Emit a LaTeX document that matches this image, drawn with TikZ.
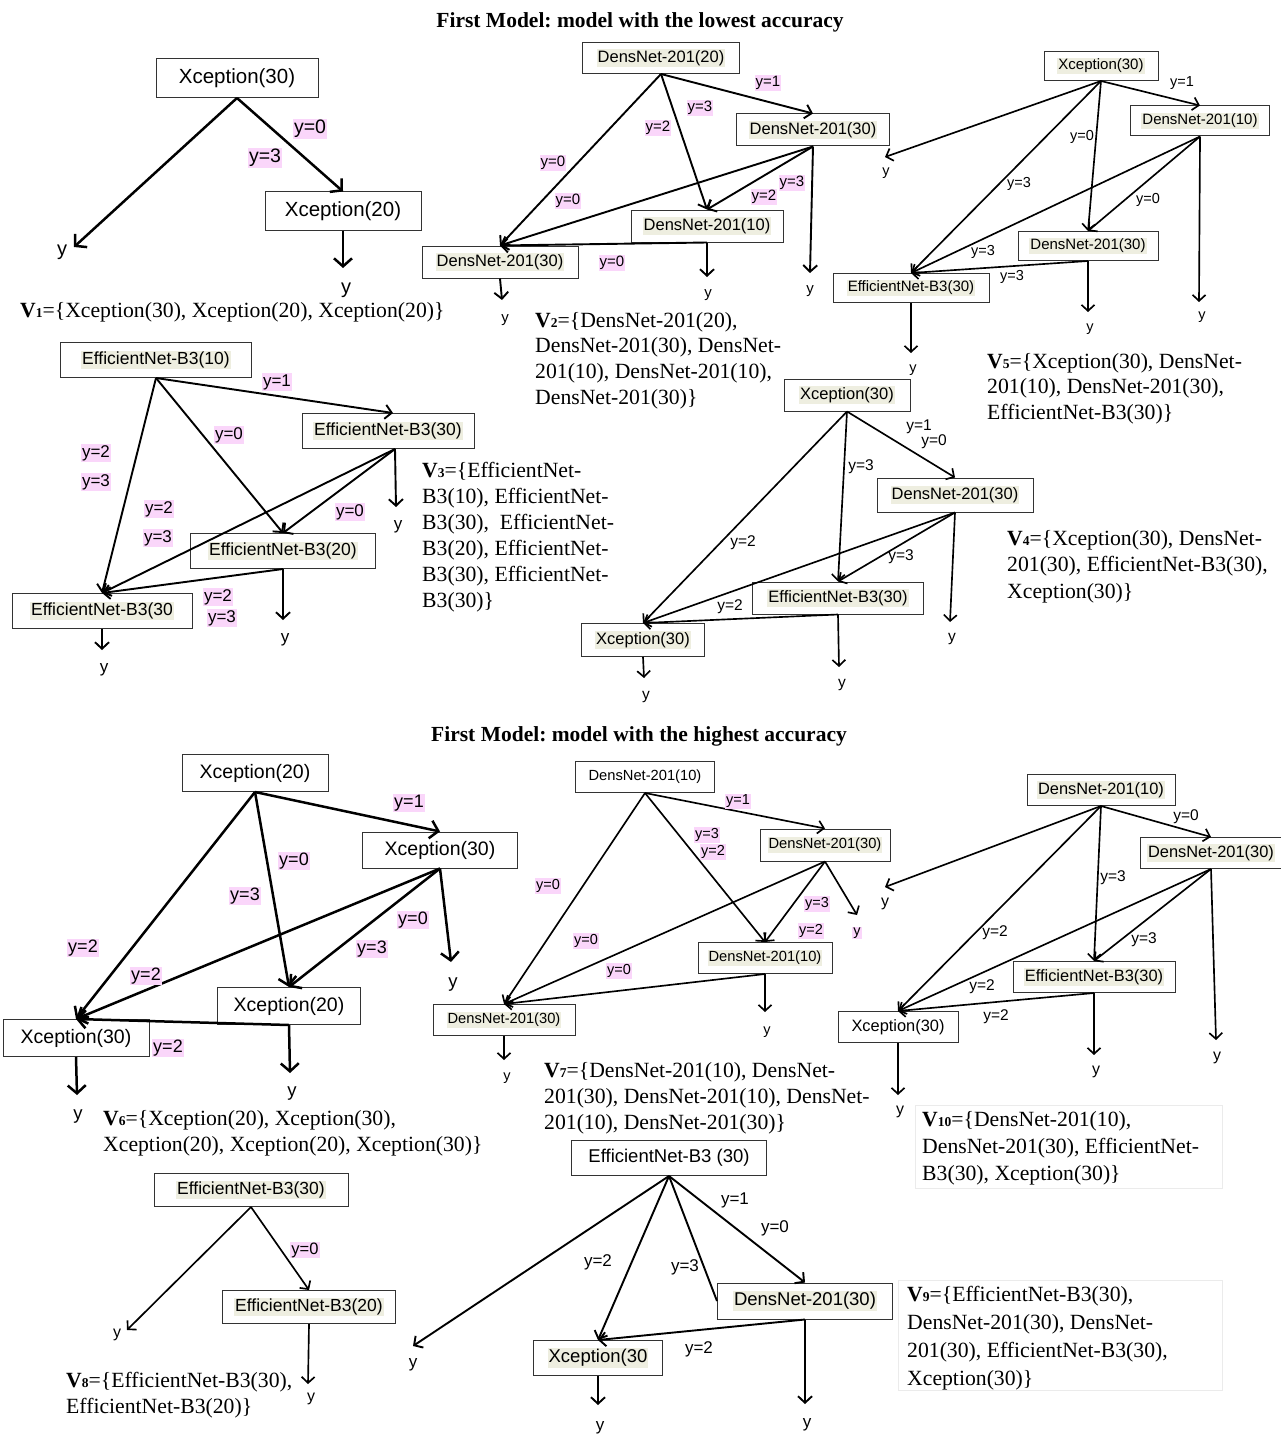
\documentclass[tikz,border=0pt]{standalone}
\usepackage{fontspec}
\setmainfont{Liberation Serif}
\newfontfamily\arialf{Liberation Sans}
\usetikzlibrary{arrows.meta}
\definecolor{pk}{RGB}{250,214,250}
\definecolor{bg}{RGB}{238,238,224}
\newcommand\A[1]{\arialf\fontsize{#1}{#1}\selectfont}
\newcommand\hb[1]{{\setlength{\fboxsep}{1pt}\colorbox{bg}{#1}}}
\newcommand\Vs[1]{\textbf{V}{\fontsize{13.5}{13.5}\selectfont\bfseries #1}}
\newcommand\ST[1]{\fontsize{21.7}{#1}\selectfont}
\frenchspacing
\begin{document}
\begin{tikzpicture}[x=1pt,y=-1pt,
 bx/.style={draw=black!80, line width=1pt, fill=white, inner sep=0pt},
 wh/.style 2 args={minimum width=#1pt, minimum height=#2pt},
 aT/.style={line width=2.5pt, -{Straight Barb[length=8pt,width=18pt]}},
 aM/.style={line width=1.9pt, -{Straight Barb[length=6.5pt,width=14pt]}},
 aS/.style={line width=1.65pt, -{Straight Barb[length=6pt,width=13pt]}},
 lnS/.style={line width=1.9pt},
 lp/.style={fill=pk, inner sep=1pt},
 lb/.style={inner sep=1pt},
 st/.style={anchor=north west, align=left, inner sep=0pt},
]
\fill[white] (0,0) rectangle (1281,1434);
\useasboundingbox (0,0) rectangle (1281,1434);

% titles
\node[font=\fontsize{21.5}{24}\selectfont\bfseries] (t1) at (640,22) {First Model: model with the lowest accuracy};
\node[font=\fontsize{21.5}{24}\selectfont\bfseries] (t2) at (639,736) {First Model: model with the highest accuracy};

% ================= V1
\node[bx, wh={162}{39}, font=\A{20.5}] (a1) at (237,78) {Xception(30)};
\node[bx, wh={156}{38}, font=\A{20.5}] (a2) at (343,211) {Xception(20)};
\coordinate (a1y) at (74,247);
\coordinate (a2y) at (343,268);
\draw[aT] (a1.south) -- (a1y);
\draw[aT] (a1.south) -- (a2.north);
\draw[aT] (a2.south) -- (a2y);
\node[font=\A{20}] (a1yl) at (62,252) {y};
\node[font=\A{20}] (a2yl) at (346,290) {y};
\node[lp, font=\A{19.5}] (a1l0) at (310,129) {y=0};
\node[lp, font=\A{19.5}] (a1l3) at (265,158) {y=3};
\node[st, font=\ST{26}] (v1) at (20,302) {\Vs{1}=\{Xception(30), Xception(20), Xception(20)\}};

% ================= V2
\node[bx, wh={157}{31}, font=\A{16.5}] (b1) at (661,58) {\hb{DensNet-201(20)}};
\node[bx, wh={153}{32}, font=\A{16.5}] (b2) at (813,130) {\hb{DensNet-201(30)}};
\node[bx, wh={152}{32}, font=\A{16.5}] (b3) at (707,226) {\hb{DensNet-201(10)}};
\node[bx, wh={156}{32}, font=\A{16.5}] (b4) at (500,262) {\hb{DensNet-201(30)}};
\coordinate (b2y) at (810,273);
\coordinate (b3y) at (707,277);
\coordinate (b4y) at (502,300);
\draw[aM] (b1.south) -- (b2.north);
\draw[aM] (b1.south) -- (b3.north);
\draw[aM] (b1.south) -- (b4.north);
\draw[aM] (b2.south) -- (b4.north);
\draw[aM] (b2.south) -- (b3.north);
\draw[aM] (b2.south) -- (b2y);
\draw[aM] (b3.south) -- (b4.north);
\draw[aM] (b3.south) -- (b3y);
\draw[aM] (b4.south) -- (b4y);
\node[font=\A{15}] (b2yl) at (810,291) {y};
\node[font=\A{15}] (b3yl) at (708,295) {y};
\node[font=\A{15}] (b4yl) at (505,320) {y};
\node[lp, font=\A{15}] (b1l1) at (768,83) {y=1};
\node[lp, font=\A{15}] (b1l3) at (700,108) {y=3};
\node[lp, font=\A{15}] (b1l2) at (658,128) {y=2};
\node[lp, font=\A{15}] (b1l0) at (553,163) {y=0};
\node[lp, font=\A{15}] (b2l0) at (568,201) {y=0};
\node[lp, font=\A{15}] (b2l3) at (792,183) {y=3};
\node[lp, font=\A{15}] (b2l2) at (764,197) {y=2};
\node[lp, font=\A{15}] (b3l0) at (612,263) {y=0};
\node[st, font=\ST{25.7}] (v2) at (535,312) {\Vs{2}=\{DensNet-201(20),\\DensNet-201(30), DensNet-\\201(10), DensNet-201(10),\\DensNet-201(30)\}};

% ================= V5
\node[bx, wh={114}{29}, font=\A{15}] (c1) at (1101,66) {\hb{Xception(30)}};
\node[bx, wh={139}{30}, font=\A{15}] (c2) at (1200,121) {\hb{DensNet-201(10)}};
\node[bx, wh={140}{29}, font=\A{15}] (c3) at (1088,246) {\hb{DensNet-201(30)}};
\node[bx, wh={156}{29}, font=\A{15}] (c4) at (911,288) {\hb{EfficientNet-B3(30)}};
\coordinate (c1y) at (885,157);
\coordinate (c2y) at (1199,302);
\coordinate (c3y) at (1088,312);
\coordinate (c4y) at (911,353);
\draw[aS] (c1.south) -- (c1y);
\draw[aS] (c1.south) -- (c2.north);
\draw[aS] (c1.south) -- (c3.north);
\draw[aS] (c1.south) -- (c4.north);
\draw[aS] (c2.south) -- (c4.north);
\draw[aS] (c2.south) -- (c3.north);
\draw[aS] (c2.south) -- (c2y);
\draw[aS] (c3.south) -- (c4.north);
\draw[aS] (c3.south) -- (c3y);
\draw[aS] (c4.south) -- (c4y);
\node[font=\A{14.5}] (c1yl) at (886,173) {y};
\node[font=\A{14.5}] (c2yl) at (1202,317) {y};
\node[font=\A{14.5}] (c3yl) at (1090,329) {y};
\node[font=\A{14.5}] (c4yl) at (913,370) {y};
\node[lb, font=\A{14.5}] (c1l1) at (1182,83) {y=1};
\node[lb, font=\A{14.5}] (c1l0) at (1082,137) {y=0};
\node[lb, font=\A{14.5}] (c1l3) at (1019,184) {y=3};
\node[lb, font=\A{14.5}] (c2l3) at (983,252) {y=3};
\node[lb, font=\A{14.5}] (c2l0) at (1148,200) {y=0};
\node[lb, font=\A{14.5}] (c3l3) at (1012,277) {y=3};
\node[st, font=\ST{25.5}] (v5) at (987,353) {\Vs{5}=\{Xception(30), DensNet-\\201(10), DensNet-201(30),\\EfficientNet-B3(30)\}};

% ================= V3
\node[bx, wh={191}{35}, font=\A{17.5}] (d1) at (156,360) {\hb{EfficientNet-B3(10)}};
\node[bx, wh={172}{35}, font=\A{17.5}] (d2) at (388,431) {\hb{EfficientNet-B3(30)}};
\node[bx, wh={185}{35}, font=\A{17.5}] (d3) at (283,551) {\hb{EfficientNet-B3(20)}};
\node[bx, wh={180}{35}, font=\A{17.5}] (d4) at (102,611) {\hb{EfficientNet-B3(30}};
\coordinate (d2y) at (396,507);
\coordinate (d3y) at (283,620);
\coordinate (d4y) at (102,650);
\draw[aM] (d1.south) -- ([xshift=5pt]d2.north);
\draw[aM] (d1.south) -- (d3.north);
\draw[aM] (d1.south) -- (d4.north);
\draw[aM] ([xshift=7pt]d2.south) -- (d4.north);
\draw[aM] ([xshift=7pt]d2.south) -- (d3.north);
\draw[aM] ([xshift=7pt]d2.south) -- (d2y);
\draw[aM] (d3.south) -- (d4.north);
\draw[aM] (d3.south) -- (d3y);
\draw[aM] (d4.south) -- (d4y);
\node[font=\A{17}] (d2yl) at (398,527) {y};
\node[font=\A{17}] (d3yl) at (285,640) {y};
\node[font=\A{17}] (d4yl) at (104,670) {y};
\node[lp, font=\A{17}] (d1l1) at (277,382) {y=1};
\node[lp, font=\A{17}] (d1l0) at (229,435) {y=0};
\node[lp, font=\A{17}] (d1l2) at (96,453) {y=2};
\node[lp, font=\A{17}] (d1l3) at (96,482) {y=3};
\node[lp, font=\A{17}] (d2l2) at (159,509) {y=2};
\node[lp, font=\A{17}] (d2l3) at (158,538) {y=3};
\node[lp, font=\A{17}] (d2l0) at (350,512) {y=0};
\node[lp, font=\A{17}] (d3l2) at (218,597) {y=2};
\node[lp, font=\A{17}] (d3l3) at (222,618) {y=3};
\node[st, font=\ST{26}] (v3) at (422,462) {\Vs{3}=\{EfficientNet-\\B3(10), EfficientNet-\\B3(30),\ \ EfficientNet-\\B3(20), EfficientNet-\\B3(30), EfficientNet-\\B3(30)\}};

% ================= V4
\node[bx, wh={126}{32}, font=\A{16.5}] (e1) at (847,395) {\hb{Xception(30)}};
\node[bx, wh={156}{34}, font=\A{16.5}] (e2) at (955,495) {\hb{DensNet-201(30)}};
\node[bx, wh={171}{32}, font=\A{16.5}] (e3) at (838,598) {\hb{EfficientNet-B3(30)}};
\node[bx, wh={123}{33}, font=\A{16.5}] (e4) at (643,640) {\hb{Xception(30)}};
\coordinate (e2y) at (950,622);
\coordinate (e3y) at (839,667);
\coordinate (e4y) at (644,678);
\draw[aS] (e1.south) -- (e2.north);
\draw[aS] (e1.south) -- (e3.north);
\draw[aS] (e1.south) -- (e4.north);
\draw[aS] (e2.south) -- (e4.north);
\draw[aS] (e2.south) -- (e3.north);
\draw[aS] (e2.south) -- (e2y);
\draw[aS] (e3.south) -- (e4.north);
\draw[aS] (e3.south) -- (e3y);
\draw[aS] (e4.south) -- (e4y);
\node[font=\A{15.5}] (e2yl) at (952,639) {y};
\node[font=\A{15.5}] (e3yl) at (842,685) {y};
\node[font=\A{15.5}] (e4yl) at (646,697) {y};
\node[lb, font=\A{15.5}] (e1l1) at (919,427) {y=1};
\node[lb, font=\A{15.5}] (e1l0) at (934,442) {y=0};
\node[lb, font=\A{15.5}] (e1l3) at (861,467) {y=3};
\node[lb, font=\A{15.5}] (e1l2) at (743,543) {y=2};
\node[lb, font=\A{15.5}] (e2l2) at (730,607) {y=2};
\node[lb, font=\A{15.5}] (e2l3) at (901,557) {y=3};
\node[st, font=\ST{26.5}] (v4) at (1007,530) {\Vs{4}=\{Xception(30), DensNet-\\201(30), EfficientNet-B3(30),\\Xception(30)\}};

% ================= V6
\node[bx, wh={146}{37}, font=\A{19.5}] (f1) at (255,773) {Xception(20)};
\node[bx, wh={155}{36}, font=\A{19.5}] (f2) at (440,850) {Xception(30)};
\node[bx, wh={143}{37}, font=\A{19.5}] (f3) at (289,1006) {Xception(20)};
\node[bx, wh={146}{37}, font=\A{19.5}] (f4) at (76,1038) {Xception(30)};
\coordinate (f2y) at (451,962);
\coordinate (f3y) at (290,1073);
\coordinate (f4y) at (77,1095);
\draw[aT] (f1.south) -- (f2.north);
\draw[aT] (f1.south) -- (f3.north);
\draw[aT] (f1.south) -- (f4.north);
\draw[aT] (f2.south) -- (f4.north);
\draw[aT] (f2.south) -- (f3.north);
\draw[aT] (f2.south) -- (f2y);
\draw[aT] (f3.south) -- (f4.north);
\draw[aT] (f3.south) -- (f3y);
\draw[aT] (f4.south) -- (f4y);
\node[font=\A{18.5}] (f2yl) at (453,985) {y};
\node[font=\A{18.5}] (f3yl) at (292,1094) {y};
\node[font=\A{18.5}] (f4yl) at (78,1117) {y};
\node[lp, font=\A{18}] (f1l1) at (409,803) {y=1};
\node[lp, font=\A{18}] (f1l0) at (294,861) {y=0};
\node[lp, font=\A{18}] (f1l3) at (245,896) {y=3};
\node[lp, font=\A{18}] (f1l2) at (83,948) {y=2};
\node[lp, font=\A{18}] (f2l2) at (146,976) {y=2};
\node[lp, font=\A{18}] (f2l0) at (413,920) {y=0};
\node[lp, font=\A{18}] (f2l3) at (372,949) {y=3};
\node[lp, font=\A{18}] (f3l2) at (168,1048) {y=2};
\node[st, font=\ST{26}] (v6) at (103,1110) {\Vs{6}=\{Xception(20), Xception(30),\\Xception(20), Xception(20), Xception(30)\}};

% ================= V7
\node[bx, wh={139}{31}, font=\A{14.7}] (g1) at (645,777) {DensNet-201(10)};
\node[bx, wh={130}{32}, font=\A{14.7}] (g2) at (825,845) {\hb{DensNet-201(30)}};
\node[bx, wh={134}{31}, font=\A{14.7}] (g3) at (765,958) {\hb{DensNet-201(10)}};
\node[bx, wh={142}{31}, font=\A{14.7}] (g4) at (504,1020) {\hb{DensNet-201(30)}};
\coordinate (g2y) at (857,915);
\coordinate (g3y) at (765,1012);
\coordinate (g4y) at (504,1060);
\draw[aS] (g1.south) -- (g2.north);
\draw[aS] (g1.south) -- (g3.north);
\draw[aS] (g1.south) -- (g4.north);
\draw[aS] (g2.south) -- (g4.north);
\draw[aS] (g2.south) -- (g3.north);
\draw[aS] (g2.south) -- (g2y);
\draw[aS] (g3.south) -- (g4.north);
\draw[aS] (g3.south) -- (g3y);
\draw[aS] (g4.south) -- (g4y);
\node[lp, font=\A{14.5}] (g2yl) at (857,933) {y};
\node[font=\A{14.5}] (g3yl) at (767,1032) {y};
\node[font=\A{14.5}] (g4yl) at (507,1078) {y};
\node[lp, font=\A{14.5}] (g1l1) at (738,801) {y=1};
\node[lp, font=\A{14.5}] (g1l3) at (707,835) {y=3};
\node[lp, font=\A{14.5}] (g1l2) at (713,852) {y=2};
\node[lp, font=\A{14.5}] (g1l0) at (548,886) {y=0};
\node[lp, font=\A{14.5}] (g2l0) at (586,941) {y=0};
\node[lp, font=\A{14.5}] (g2l3) at (817,904) {y=3};
\node[lp, font=\A{14.5}] (g2l2) at (811,931) {y=2};
\node[lp, font=\A{14.5}] (g3l0) at (619,971) {y=0};
\node[st, font=\ST{26}] (v7) at (544,1062) {\Vs{7}=\{DensNet-201(10), DensNet-\\201(30), DensNet-201(10), DensNet-\\201(10), DensNet-201(30)\}};

% ================= V10
\node[bx, wh={148}{31}, font=\A{16.4}] (h1) at (1101,790) {\hb{DensNet-201(10)}};
\node[bx, wh={141}{31}, font=\A{16.4}] (h2) at (1211,853) {\hb{DensNet-201(30)}};
\node[bx, wh={162}{31}, font=\A{16.4}] (h3) at (1094,977) {\hb{EfficientNet-B3(30)}};
\node[bx, wh={120}{31}, font=\A{16.4}] (h4) at (898,1027) {Xception(30)};
\coordinate (h1y) at (885,887);
\coordinate (h2y) at (1216,1040);
\coordinate (h3y) at (1094,1055);
\coordinate (h4y) at (898,1095);
\draw[aS] (h1.south) -- (h1y);
\draw[aS] (h1.south) -- (h2.north);
\draw[aS] (h1.south) -- (h3.north);
\draw[aS] (h1.south) -- (h4.north);
\draw[aS] (h2.south) -- (h4.north);
\draw[aS] (h2.south) -- (h3.north);
\draw[aS] (h2.south) -- (h2y);
\draw[aS] (h3.south) -- (h4.north);
\draw[aS] (h3.south) -- (h3y);
\draw[aS] (h4.south) -- (h4y);
\node[font=\A{16}] (h1yl) at (885,904) {y};
\node[font=\A{16}] (h2yl) at (1217,1058) {y};
\node[font=\A{16}] (h3yl) at (1096,1072) {y};
\node[font=\A{16}] (h4yl) at (900,1112) {y};
\node[lb, font=\A{15.5}] (h1l0) at (1186,817) {y=0};
\node[lb, font=\A{15.5}] (h1l3) at (1113,878) {y=3};
\node[lb, font=\A{15.5}] (h1l2) at (995,933) {y=2};
\node[lb, font=\A{15.5}] (h2l2) at (982,987) {y=2};
\node[lb, font=\A{15.5}] (h2l3) at (1144,940) {y=3};
\node[lb, font=\A{15.5}] (h3l2) at (996,1017) {y=2};
\draw[black!8, line width=0.8pt] (915,1105) rectangle (1222,1188);
\node[st, font=\ST{27}] (v10) at (922,1111) {\Vs{10}=\{DensNet-201(10),\\DensNet-201(30), EfficientNet-\\B3(30), Xception(30)\}};

% ================= V8
\node[bx, wh={194}{33}, font=\A{17.5}] (i1) at (251,1190) {\hb{EfficientNet-B3(30)}};
\node[bx, wh={173}{33}, font=\A{17.5}] (i2) at (309,1307) {\hb{EfficientNet-B3(20)}};
\coordinate (i1y) at (127,1330);
\coordinate (i2y) at (308,1384);
\draw[aS] (i1.south) -- (i1y);
\draw[aS] (i1.south) -- (i2.north);
\draw[aS] (i2.south) -- (i2y);
\node[font=\A{16}] (i1yl) at (117,1335) {y};
\node[font=\A{16}] (i2yl) at (311,1399) {y};
\node[lp, font=\A{16.5}] (i1l0) at (305,1250) {y=0};
\node[st, font=\ST{26}] (v8) at (66,1372) {\Vs{8}=\{EfficientNet-B3(30),\\EfficientNet-B3(20)\}};

% ================= V9
\node[bx, wh={195}{35}, font=\A{18.5}] (j1) at (669,1158) {EfficientNet-B3 (30)};
\node[bx, wh={175}{36}, font=\A{18.5}] (j2) at (805,1301) {\hb{DensNet-201(30)}};
\node[bx, wh={129}{35}, font=\A{18.5}] (j3) at (598,1358) {\hb{Xception(30}};
\coordinate (j1y) at (413,1346);
\coordinate (j2y) at (805,1404);
\coordinate (j3y) at (598,1405);
\draw[aM] (j1.south) -- (j1y);
\draw[aM] (j1.south) -- (j2.north);
\draw[aM] (j1.south) -- (j3.north);
\draw[lnS] (j1.south) -- (j2.west);
\draw[aM] (j2.south) -- (j3.north);
\draw[aM] (j2.south) -- (j2y);
\draw[aM] (j3.south) -- (j3y);
\node[font=\A{17}] (j1yl) at (413,1365) {y};
\node[font=\A{17}] (j2yl) at (807,1425) {y};
\node[font=\A{17}] (j3yl) at (600,1428) {y};
\node[lb, font=\A{17}] (j1l1) at (735,1200) {y=1};
\node[lb, font=\A{17}] (j1l0) at (775,1228) {y=0};
\node[lb, font=\A{17}] (j1l2) at (598,1262) {y=2};
\node[lb, font=\A{17}] (j1l3) at (685,1267) {y=3};
\node[lb, font=\A{17}] (j2l2) at (699,1349) {y=2};
\draw[black!8, line width=0.8pt] (898,1280) rectangle (1222,1390);
\node[st, font=\ST{28}] (v9) at (907,1286) {\Vs{9}=\{EfficientNet-B3(30),\\DensNet-201(30), DensNet-\\201(30), EfficientNet-B3(30),\\Xception(30)\}};
\end{tikzpicture}
\end{document}
